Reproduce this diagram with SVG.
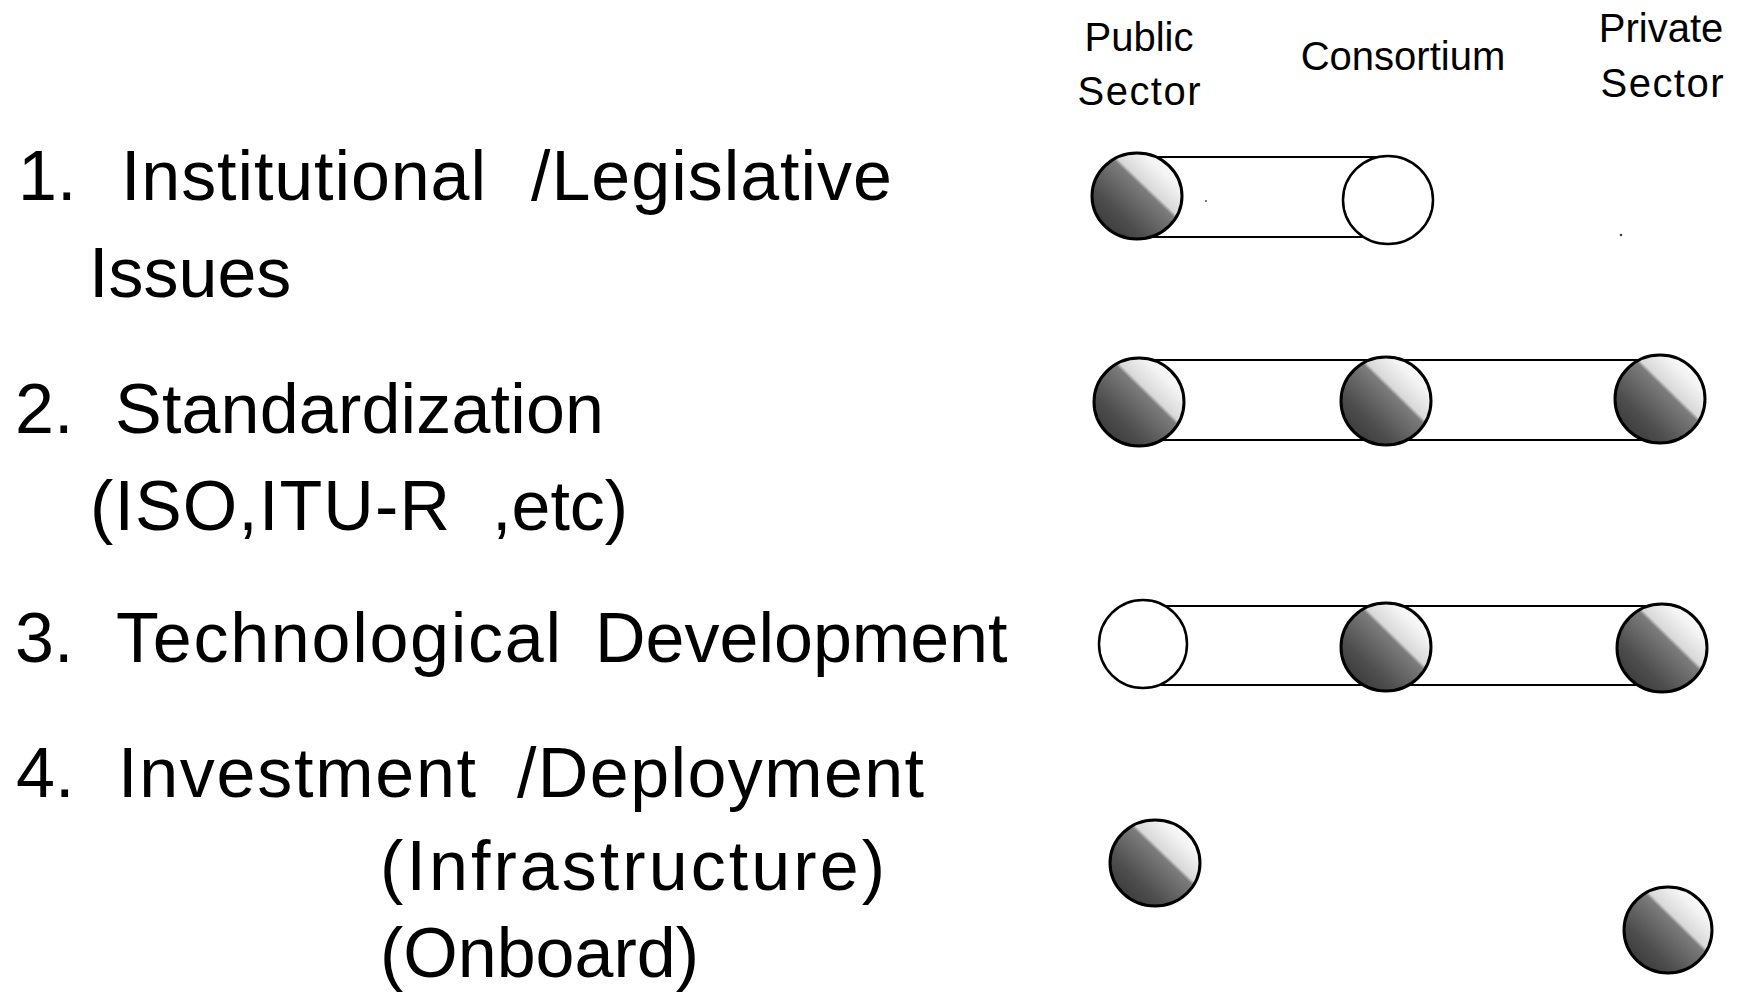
<svg xmlns="http://www.w3.org/2000/svg" width="1740" height="993" viewBox="0 0 1740 993">
<style>
text { font-family: "Liberation Sans", Arial, sans-serif; fill: #000; }
.big { font-size: 70px; }
.hdr { font-size: 40px; text-anchor: middle; }
.shaded { fill: url(#shade); stroke: #000; stroke-width: 3; }
.open { fill: #fff; stroke: #000; stroke-width: 2.5; }
.tube { stroke: #000; stroke-width: 2.2; fill: none; }
</style>
<defs>
<linearGradient id="shade" x1="0" y1="1" x2="1" y2="0">
<stop offset="0" stop-color="#2e2e2e"/>
<stop offset="0.3" stop-color="#4e4e4e"/>
<stop offset="0.58" stop-color="#7c7c7c"/>
<stop offset="0.61" stop-color="#d8d8d8"/>
<stop offset="0.78" stop-color="#f4f4f4"/>
<stop offset="1" stop-color="#ffffff"/>
</linearGradient>
</defs>
<rect width="1740" height="993" fill="#fff"/>

<g id="headers">
<text class="hdr" x="1139" y="51">Public</text>
<text class="hdr" x="1139" y="105" textLength="123" lengthAdjust="spacing">Sector</text>
<text class="hdr" x="1403" y="70">Consortium</text>
<text class="hdr" x="1661" y="42">Private</text>
<text class="hdr" x="1662" y="97" textLength="123" lengthAdjust="spacing">Sector</text>
</g>

<g id="labels">
<text class="big" y="200"><tspan x="18">1.</tspan><tspan x="121" textLength="365" lengthAdjust="spacing">Institutional</tspan><tspan x="531" textLength="361" lengthAdjust="spacing">/Legislative</tspan></text>
<text class="big" x="89" y="297">Issues</text>
<text class="big" y="433"><tspan x="15">2.</tspan><tspan x="115" textLength="489" lengthAdjust="spacing">Standardization</tspan></text>
<text class="big" y="530"><tspan x="90" textLength="360" lengthAdjust="spacing">(ISO,ITU-R</tspan><tspan x="492">,etc)</tspan></text>
<text class="big" y="662"><tspan x="15">3.</tspan><tspan x="116" textLength="445" lengthAdjust="spacing">Technological</tspan><tspan x="595">Development</tspan></text>
<text class="big" y="797"><tspan x="16">4.</tspan><tspan x="118" textLength="358" lengthAdjust="spacing">Investment</tspan><tspan x="517" textLength="407" lengthAdjust="spacing">/Deployment</tspan></text>
<text class="big" x="380" y="890" textLength="505" lengthAdjust="spacing">(Infrastructure)</text>
<text class="big" x="380" y="977">(Onboard)</text>
</g>

<g id="connectors">
<line class="tube" x1="1137" y1="157" x2="1388" y2="157"/>
<line class="tube" x1="1137" y1="237" x2="1388" y2="237"/>
<line class="tube" x1="1139" y1="360" x2="1660" y2="360"/>
<line class="tube" x1="1139" y1="440" x2="1660" y2="440"/>
<line class="tube" x1="1143" y1="606" x2="1662" y2="606"/>
<line class="tube" x1="1143" y1="685" x2="1662" y2="685"/>
</g>

<g id="row1-public"><ellipse class="shaded" cx="1137" cy="196" rx="45" ry="43"/></g>
<g id="row1-consortium"><ellipse class="open" cx="1388" cy="200" rx="45" ry="44"/></g>

<g id="row2-public"><ellipse class="shaded" cx="1139" cy="402" rx="45" ry="44"/></g>
<g id="row2-consortium"><ellipse class="shaded" cx="1386" cy="401" rx="45" ry="44"/></g>
<g id="row2-private"><ellipse class="shaded" cx="1660" cy="399" rx="45" ry="44"/></g>

<g id="row3-public"><ellipse class="open" cx="1143" cy="644" rx="44" ry="44"/></g>
<g id="row3-consortium"><ellipse class="shaded" cx="1386" cy="647" rx="45" ry="44"/></g>
<g id="row3-private"><ellipse class="shaded" cx="1662" cy="648" rx="45" ry="44"/></g>

<g id="row4-public"><ellipse class="shaded" cx="1155" cy="863" rx="45" ry="43"/></g>
<g id="row4-private"><ellipse class="shaded" cx="1668" cy="930" rx="44" ry="43"/></g>

<g id="specks">
<circle cx="1206" cy="201" r="1" fill="#555"/>
<circle cx="1621" cy="235" r="1.2" fill="#333"/>
</g>
</svg>
